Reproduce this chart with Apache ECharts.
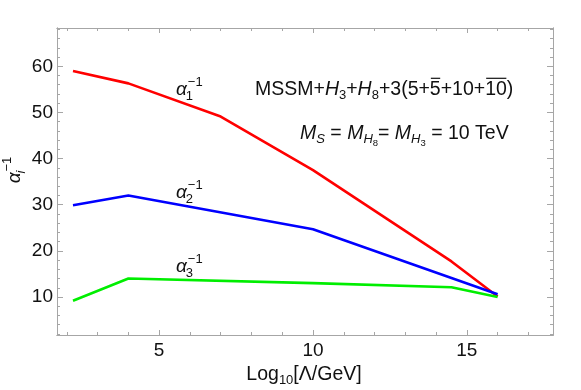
<!DOCTYPE html>
<html>
<head>
<meta charset="utf-8">
<script src="https://cdn.jsdelivr.net/npm/echarts@6/dist/echarts.min.js"></script>
<style>
  html, body { margin: 0; padding: 0; background: #fff; }
  #main { width: 581px; height: 390px; }
</style>
</head>
<body>
<div id="main"></div>
<script>
// x = log10(Lambda/GeV), y = alpha_i^-1
const alpha1X = [2.2, 4, 7, 10, 14.5, 16];
const alpha1Y = [59.0, 56.3, 49.1, 37.5, 17.7, 10.1];
const alpha2X = [2.2, 4, 10, 16];
const alpha2Y = [29.9, 32.0, 24.7, 10.6];
const alpha3X = [2.2, 4, 10, 14.5, 16];
const alpha3Y = [9.2, 14.0, 13.0, 12.1, 10.0];

const xMajor = [5, 10, 15];
const xMinor = [2, 3, 4, 6, 7, 8, 9, 11, 12, 13, 14, 16, 17];
const yMajor = [10, 20, 30, 40, 50, 60];
const yMinor = [2, 4, 6, 8, 12, 14, 16, 18, 22, 24, 26, 28, 32, 34, 36, 38, 42, 44, 46, 48, 52, 54, 56, 58, 62, 64, 66, 68];

const xMin = 1.68, xMax = 17.8, yMin = 1.76, yMax = 68.3;
const frameColor = '#a6a6a6';
const txt = '#111';
const FONT = '"Liberation Sans", Arial, sans-serif';

function pairs(xs, ys) { return xs.map((x, i) => [x, ys[i]]); }

// small helper for sub/superscript text built from pieces
const ctx = document.createElement('canvas').getContext('2d');
function fontOf(p) { return (p.it ? 'italic ' : '') + p.fs + 'px ' + FONT; }
function mathText(parts, x, y, anchor, rot) {
    let cx = 0;
    const kids = [];
    parts.forEach(p => {
        ctx.font = fontOf(p);
        const w = ctx.measureText(p.t).width;
        const px = cx + (p.dx || 0);
        kids.push({type: 'text', x: px, y: p.dy || 0,
            style: {text: p.t, font: fontOf(p), fill: txt, verticalAlign: 'middle', align: 'left'}});
        if (p.ov) kids.push({type: 'line',
            shape: {x1: px + 1, y1: -p.fs * 0.6, x2: px + w - 0.5, y2: -p.fs * 0.6},
            style: {stroke: txt, lineWidth: 1.2}});
        if (!p.stay) cx = px + w;
    });
    const off = anchor === 'center' ? -cx / 2 : 0;
    kids.forEach(k => {
        if (k.type === 'text') k.x += off;
        else { k.shape.x1 += off; k.shape.x2 += off; }
    });
    return {type: 'group', x: x, y: y, rotation: rot || 0, silent: true, children: kids};
}

function alphaLabel(idx, x, y) {
    return mathText([
        {t: 'α', fs: 19, it: true},
        {t: '−1', fs: 13, dy: -7.5, dx: 1, stay: true},
        {t: idx, fs: 13, dy: 6, dx: -1}
    ], x, y, 'left');
}

function xAxisOf(pos, vals, len, labels) {
    return {
        type: 'value', min: xMin, max: xMax, position: pos, gridIndex: 0,
        axisLine: {show: true, onZero: false, lineStyle: {color: frameColor, width: 1}},
        axisTick: {show: true, inside: true, length: len, customValues: vals, lineStyle: {color: frameColor}},
        axisLabel: {show: labels, customValues: vals, margin: 6, color: txt, fontSize: 19, fontFamily: FONT},
        splitLine: {show: false}
    };
}
function yAxisOf(pos, vals, len, labels) {
    return {
        type: 'value', min: yMin, max: yMax, position: pos, gridIndex: 0,
        axisLine: {show: true, onZero: false, lineStyle: {color: frameColor, width: 1}},
        axisTick: {show: true, inside: true, length: len, customValues: vals, lineStyle: {color: frameColor}},
        axisLabel: {show: labels, customValues: vals, margin: 4, color: txt, fontSize: 19, fontFamily: FONT},
        splitLine: {show: false}
    };
}

const chart = echarts.init(document.getElementById('main'), null, {renderer: 'canvas'});

const lineStyle = (c) => ({color: c, width: 2.6});

chart.setOption({
    animation: false,
    backgroundColor: '#fff',
    grid: {left: 57, top: 28, right: 28, bottom: 55, containLabel: false},
    xAxis: [
        xAxisOf('bottom', xMajor, 5, true),
        xAxisOf('bottom', xMinor, 3, false),
        xAxisOf('top', xMajor, 5, false),
        xAxisOf('top', xMinor, 3, false)
    ],
    yAxis: [
        yAxisOf('left', yMajor, 6, true),
        yAxisOf('left', yMinor, 3, false),
        yAxisOf('right', yMajor, 6, false),
        yAxisOf('right', yMinor, 3, false)
    ],
    series: [
        {type: 'line', xAxisIndex: 0, yAxisIndex: 0, data: pairs(alpha1X, alpha1Y), symbol: 'none',
            lineStyle: lineStyle('#ff0000'), itemStyle: {color: '#ff0000'}},
        {type: 'line', xAxisIndex: 0, yAxisIndex: 0, data: pairs(alpha2X, alpha2Y), symbol: 'none',
            lineStyle: lineStyle('#0000ff'), itemStyle: {color: '#0000ff'}},
        {type: 'line', xAxisIndex: 0, yAxisIndex: 0, data: pairs(alpha3X, alpha3Y), symbol: 'none',
            lineStyle: lineStyle('#00ee00'), itemStyle: {color: '#00ee00'}}
    ],
    graphic: [
        alphaLabel('1', 176, 90),
        alphaLabel('2', 176, 193),
        alphaLabel('3', 176, 267),
        mathText([
            {t: 'MSSM+', fs: 19.5},
            {t: 'H', fs: 19.5, it: true},
            {t: '3', fs: 13, dy: 5},
            {t: '+', fs: 19.5},
            {t: 'H', fs: 19.5, it: true},
            {t: '8', fs: 13, dy: 5},
            {t: '+3(5+', fs: 19.5},
            {t: '5', fs: 19.5, ov: true},
            {t: '+10+', fs: 19.5},
            {t: '10', fs: 19.5, ov: true},
            {t: ')', fs: 19.5}
        ], 255, 90, 'left'),
        mathText([
            {t: 'M', fs: 19.5, it: true},
            {t: 'S', fs: 13, it: true, dy: 5},
            {t: ' = ', fs: 19.5},
            {t: 'M', fs: 19.5, it: true},
            {t: 'H', fs: 13, it: true, dy: 5},
            {t: '8', fs: 9.5, dy: 9},
            {t: '= ', fs: 19.5},
            {t: 'M', fs: 19.5, it: true},
            {t: 'H', fs: 13, it: true, dy: 5},
            {t: '3', fs: 9.5, dy: 9},
            {t: ' = 10 TeV', fs: 19.5}
        ], 300, 134, 'left'),
        mathText([
            {t: 'Log', fs: 19.5},
            {t: '10', fs: 13, dy: 5},
            {t: '[Λ/GeV]', fs: 19.5}
        ], 304, 375, 'center'),
        mathText([
            {t: 'α', fs: 19, it: true},
            {t: '−1', fs: 13, dy: -7.5, dx: 1, stay: true},
            {t: 'i', fs: 13, it: true, dy: 6, dx: -1}
        ], 15, 177, 'center', Math.PI / 2)
    ]
});
</script>
</body>
</html>
